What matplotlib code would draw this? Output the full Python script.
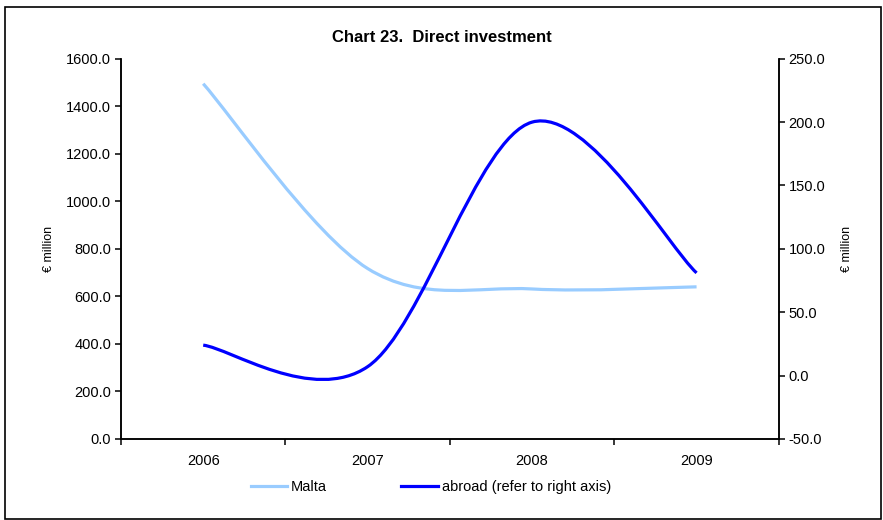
import numpy as np
import matplotlib.pyplot as plt
from matplotlib.path import Path
from matplotlib.patches import PathPatch, Rectangle
from matplotlib.lines import Line2D

plt.rcParams['font.family'] = ['Liberation Sans', 'DejaVu Sans']

# data
years = ['2006', '2007', '2008', '2009']
malta = [1495.0, 717.0, 631.0, 640.0]
abroad = [24.0, 7.0, 200.0, 81.0]


def smooth_path(xs, ys):
    # Excel-style smoothed line: cubic Bezier through every point
    pts = np.column_stack([xs, ys]).astype(float)
    verts = [pts[0]]
    codes = [Path.MOVETO]
    n = len(pts)
    for i in range(n - 1):
        p0 = pts[i - 1] if i > 0 else pts[i]
        p1 = pts[i]
        p2 = pts[i + 1]
        p3 = pts[i + 2] if i + 2 < n else pts[i + 1]
        verts += [p1 + (p2 - p0) / 6, p2 - (p3 - p1) / 6, p2]
        codes += [Path.CURVE4] * 3
    return Path(verts, codes)


fig = plt.figure(figsize=(8.83, 5.2), dpi=100)
ax = fig.add_axes([0.137, 0.156, 0.745, 0.731])
ax2 = ax.twinx()

x = np.arange(len(years)) + 0.5
ax.add_patch(PathPatch(smooth_path(x, malta), fill=False, edgecolor='#99ccff',
                       lw=2.3, capstyle='butt', zorder=3))
ax2.add_patch(PathPatch(smooth_path(x, abroad), fill=False, edgecolor='#0000ff',
                        lw=2.3, capstyle='butt', zorder=3))

ax.set_xlim(0, len(years))
ax.set_ylim(0, 1600)
ax.set_yticks(np.arange(0, 1601, 200))
ax.set_yticklabels([f'{v:.1f}' for v in np.arange(0, 1601, 200)])
ax2.set_ylim(-50, 250)
ax2.set_yticks(np.arange(-50, 251, 50))
ax2.set_yticklabels([f'{v:.1f}' for v in np.arange(-50, 251, 50)])

ax.set_xticks(np.arange(0, len(years) + 1))
ax.set_xticklabels([])
ax.set_xticks(x, minor=True)
ax.set_xticklabels(years, minor=True)
ax.tick_params(axis='x', which='minor', length=0, pad=11, labelsize=10.5)
ax.tick_params(axis='x', which='major', length=4, width=1.1, direction='out')
ax.tick_params(axis='y', length=4, width=1.1, direction='out', labelsize=10.5, pad=3)
ax2.tick_params(axis='y', length=4, width=1.1, direction='out', labelsize=10.5, pad=3)

for a in (ax, ax2):
    a.spines['top'].set_visible(False)
    for s in ('left', 'right', 'bottom'):
        a.spines[s].set_linewidth(1.1)

ax.set_ylabel('€ million', fontsize=9, labelpad=8)
ax2.set_ylabel('€ million', fontsize=9, labelpad=11)

fig.text(0.5, 0.927, 'Chart 23.  Direct investment', ha='center', va='center',
         fontsize=12, fontweight='bold')

handles = [Line2D([], [], color='#99ccff', lw=2.3),
           Line2D([], [], color='#0000ff', lw=2.3)]
fig.legend(handles, ['Malta', 'abroad (refer to right axis)'], loc='center',
           bbox_to_anchor=(0.488, 0.063), ncol=2, frameon=False, fontsize=10.5,
           handlelength=2.5, handletextpad=0.27, columnspacing=5.1)

fig.patches.append(Rectangle((0.006, 0.002), 0.992, 0.984, transform=fig.transFigure,
                             fill=False, edgecolor='black', lw=1.2))

fig.savefig('out.png', dpi=100)
